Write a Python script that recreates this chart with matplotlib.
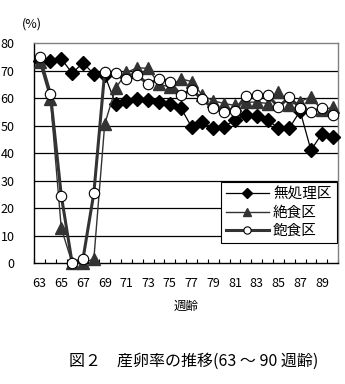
import matplotlib
matplotlib.use("Agg")
import matplotlib.pyplot as plt
from matplotlib.ticker import FixedLocator

plt.rcParams['font.family'] = ['Noto Sans CJK JP', 'DejaVu Sans']

weeks = list(range(63, 91))

# 無処理区
control = [73.5, 73.5, 74.3, 69.0, 72.8, 68.7, 68.3, 58.0, 59.0, 59.8,
           59.2, 58.5, 58.0, 56.5, 49.5, 51.2, 49.0, 49.6, 52.0, 54.0,
           53.6, 52.1, 49.0, 49.0, 55.3, 41.0, 47.0, 45.8]
# 絶食区
fasting = [73.0, 59.5, 12.6, 0.0, 0.0, 1.5, 50.5, 63.5, 69.3, 71.0,
           70.8, 65.0, 64.0, 67.0, 66.0, 61.0, 59.0, 58.0, 57.3, 58.5,
           58.5, 58.0, 62.3, 57.5, 58.7, 60.4, 55.5, 56.7]
# 飽食区
satiated = [75.0, 61.5, 24.5, 0.0, 1.5, 25.5, 69.5, 69.0, 67.0, 68.3,
            65.0, 67.0, 66.0, 61.0, 63.0, 59.5, 56.2, 55.0, 55.3, 60.8,
            61.0, 61.0, 56.8, 60.2, 56.5, 55.0, 56.2, 54.0]

series_names = ['無処理区', '絶食区', '飽食区']
yticks = list(range(0, 81, 10))
xtick_labels = list(range(63, 90, 2))

fig = plt.figure(figsize=(3.45, 3.84), dpi=100)
ax = fig.add_axes([0.099, 0.315, 0.881, 0.573])

ax.plot(weeks, control, color='black', lw=0.9, marker='D', ms=7,
        mfc='black', mec='black', label=series_names[0], clip_on=False, zorder=3)
ax.plot(weeks, fasting, color='#333333', lw=1.0, marker='^', ms=8.5,
        mfc='#333333', mec='#333333', label=series_names[1], clip_on=False, zorder=4)
ax.plot(weeks, satiated, color='#333333', lw=2.2, marker='o', ms=7.5,
        mfc='white', mec='black', mew=0.8, label=series_names[2], clip_on=False, zorder=5)

ax.set_xlim(62.5, 90.5)
ax.set_ylim(0, 80)
ax.set_yticks(yticks)
ax.set_xticks(xtick_labels)
# category boundaries get the small inward ticks
ax.xaxis.set_minor_locator(FixedLocator([w + 0.5 for w in range(62, 91)]))
ax.tick_params(axis='x', which='major', length=0, pad=10, labelsize=9)
ax.tick_params(axis='x', which='minor', direction='in', length=3, width=0.8)
ax.tick_params(axis='y', length=0, pad=14, labelsize=9)

for y in yticks[1:-1]:
    ax.axhline(y, color='black', lw=0.9, zorder=1)

ax.spines['top'].set_color('#808080')
ax.spines['right'].set_color('#808080')
ax.spines['left'].set_color('black')
ax.spines['bottom'].set_color('black')
for sp in ax.spines.values():
    sp.set_linewidth(1.0)

ax.text(-0.04, 1.086, '(%)', transform=ax.transAxes, fontsize=9, ha='left', va='center')
ax.set_xlabel('週齢', fontsize=9, labelpad=7)

leg = ax.legend(loc='lower right', bbox_to_anchor=(0.995, 0.09), fontsize=10.5,
                frameon=True, fancybox=False, edgecolor='black', framealpha=1,
                handlelength=2.9, handletextpad=0.3, borderpad=0.35,
                labelspacing=0.3, borderaxespad=0.0, markerscale=0.7)
leg.get_frame().set_linewidth(0.8)
leg.set_zorder(10)

fig.text(0.56, 0.058, '図２　産卵率の推移(63 ～ 90 週齢)', fontsize=11.5,
         ha='center', va='center')

fig.savefig('out.png', dpi=100)
